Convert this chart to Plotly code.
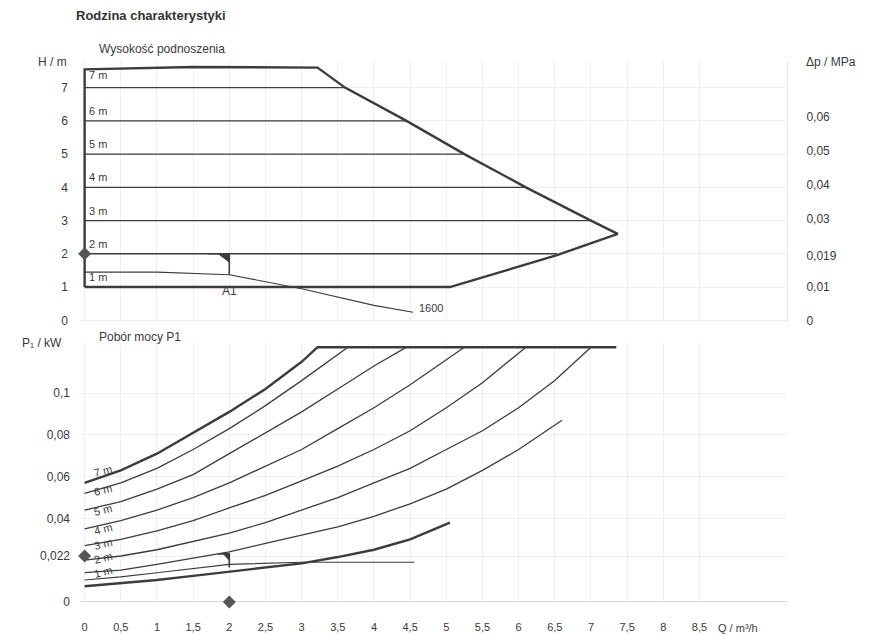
import plotly.graph_objects as go

# ---------------- data ----------------
Q_tick_vals = [0, 0.5, 1, 1.5, 2, 2.5, 3, 3.5, 4, 4.5, 5, 5.5, 6, 6.5, 7, 7.5, 8, 8.5]
Q_tick_text = ["0", "0,5", "1", "1,5", "2", "2,5", "3", "3,5", "4", "4,5",
               "5", "5,5", "6", "6,5", "7", "7,5", "8", "8,5"]
H_tick_vals = [0, 1, 2, 3, 4, 5, 6, 7]
P_tick_vals = [0, 0.022, 0.04, 0.06, 0.08, 0.1]
P_tick_text = ["0", "0,022", "0,04", "0,06", "0,08", "0,1"]
dp_tick_vals = [0, 0.01, 0.019, 0.03, 0.04, 0.05, 0.06]
dp_tick_text = ["0", "0,01", "0,019", "0,03", "0,04", "0,05", "0,06"]

# Head diagram: envelope (max / min) of the characteristic family
env_Q = [0, 0, 1.5, 3.22, 3.6, 4.45, 5.25, 6.1, 7.0, 7.37, 6.53, 5.05, 0]
env_H = [1.0, 7.55, 7.62, 7.6, 7.0, 6.0, 5.0, 4.0, 3.0, 2.6, 1.96, 1.0, 1.0]

# constant-pressure lines (H set values) and where they meet the envelope
setH_levels = [7, 6, 5, 4, 3, 2]
setH_end_Q = [3.6, 4.45, 5.25, 6.1, 7.0, 6.53]
setH_labels = ["7 m", "6 m", "5 m", "4 m", "3 m", "2 m", "1 m"]
setH_label_H = [7.38, 6.3, 5.3, 4.3, 3.3, 2.3, 1.3]

# constant speed curve "1600"
c1600_Q = [0, 1.0, 2.0, 3.0, 4.0, 4.54]
c1600_H = [1.45, 1.45, 1.37, 0.95, 0.45, 0.24]
c1600_PQ = [0, 0.5, 1.0, 1.5, 2.0, 3.0, 4.56]
c1600_P = [0.0105, 0.012, 0.014, 0.016, 0.018, 0.019, 0.019]

# operating point A1
A1_Q = 2.0
A1_H_set = 2.0
A1_H_act = 1.37
A1_P_set = 0.022
A1_P_act = 0.0165
A1_dp = 0.019

# Power diagram
Pmax_Q = [0, 0.5, 1.0, 1.5, 2.0, 2.5, 3.0, 3.22, 7.35]
Pmax_P = [0.057, 0.063, 0.071, 0.081, 0.091, 0.102, 0.115, 0.122, 0.122]

P7_Q = [0, 0.5, 1.0, 1.5, 2.0, 2.5, 3.0, 3.64]
P7_P = [0.052, 0.057, 0.064, 0.073, 0.083, 0.094, 0.106, 0.122]
P6_Q = [0, 0.5, 1.0, 1.5, 2.0, 2.5, 3.0, 3.5, 4.0, 4.45]
P6_P = [0.044, 0.048, 0.054, 0.061, 0.071, 0.081, 0.091, 0.102, 0.113, 0.122]
P5_Q = [0, 0.5, 1.0, 1.5, 2.0, 2.5, 3.0, 3.5, 4.0, 4.5, 5.0, 5.25]
P5_P = [0.035, 0.039, 0.044, 0.050, 0.057, 0.065, 0.073, 0.083, 0.093, 0.104, 0.116, 0.122]
P4_Q = [0, 0.5, 1.0, 1.5, 2.0, 2.5, 3.0, 3.5, 4.0, 4.5, 5.0, 5.5, 6.1]
P4_P = [0.027, 0.030, 0.034, 0.039, 0.045, 0.051, 0.058, 0.065, 0.073, 0.082, 0.093, 0.105, 0.122]
P3_Q = [0, 0.5, 1.0, 1.5, 2.0, 2.5, 3.0, 3.5, 4.0, 4.5, 5.0, 5.5, 6.0, 6.5, 7.0]
P3_P = [0.020, 0.022, 0.025, 0.029, 0.033, 0.038, 0.044, 0.050, 0.057, 0.064, 0.073,
        0.082, 0.093, 0.106, 0.122]
P2_Q = [0, 0.5, 1.0, 1.5, 2.0, 2.5, 3.0, 3.5, 4.0, 4.5, 5.0, 5.5, 6.0, 6.6]
P2_P = [0.014, 0.0152, 0.018, 0.021, 0.024, 0.028, 0.032, 0.036, 0.041, 0.047, 0.054,
        0.063, 0.073, 0.087]
P1_Q = [0, 0.5, 1.0, 1.5, 2.0, 2.5, 3.0, 3.5, 4.0, 4.5, 5.05]
P1_P = [0.0075, 0.009, 0.0105, 0.0125, 0.0145, 0.0165, 0.0185, 0.0215, 0.025, 0.030, 0.038]

P_label_P = [0.0625, 0.0534, 0.0438, 0.035, 0.0279, 0.0212, 0.0144]

# ---------------- figure ----------------
INK = "#3c3c3c"
TXT = "#3a3a3a"
FONT = "Liberation Sans, Arial, sans-serif"
Q_RANGE = [-0.05, 9.71]
H_RANGE = [-0.05, 7.8]
MPA_PER_M = 0.00981

fig = go.Figure()

def line(x, y, axes, width=1.3, color=INK):
    xa, ya = axes
    fig.add_trace(go.Scatter(x=x, y=y, xaxis=xa, yaxis=ya, mode="lines",
                             line=dict(color=color, width=width), hoverinfo="skip",
                             showlegend=False))

TOP = ("x2", "y2")
BOT = ("x", "y")

# --- head diagram
for h, qe in zip(setH_levels, setH_end_Q):
    line([0, qe], [h, h], TOP, width=1.4)
line(c1600_Q, c1600_H, TOP, width=1.1)
line(env_Q, env_H, TOP, width=2.4)

# A1 pennant (head)
line([A1_Q - 0.3, A1_Q, A1_Q], [A1_H_set, A1_H_set, A1_H_act], TOP, width=1.6)
fig.add_trace(go.Scatter(x=[A1_Q - 0.15, A1_Q, A1_Q, A1_Q - 0.15],
                         y=[A1_H_set, A1_H_set, A1_H_set - 0.25, A1_H_set],
                         xaxis="x2", yaxis="y2", mode="lines", fill="toself",
                         fillcolor=INK, line=dict(color=INK, width=1),
                         hoverinfo="skip", showlegend=False))

# diamonds on the head axes
fig.add_trace(go.Scatter(x=[0], y=[A1_H_set], xaxis="x2", yaxis="y2", mode="markers",
                         marker=dict(symbol="diamond", size=10, color="#555"),
                         cliponaxis=False, showlegend=False, hoverinfo="skip"))
fig.add_trace(go.Scatter(x=[Q_RANGE[1] + 0.05], y=[A1_dp], xaxis="x2", yaxis="y3",
                         mode="markers",
                         marker=dict(symbol="diamond", size=9, color="#777"),
                         cliponaxis=False, showlegend=False, hoverinfo="skip"))

# --- power diagram
line(c1600_PQ, c1600_P, BOT, width=1.1)
for qs, ps in [(P7_Q, P7_P), (P6_Q, P6_P), (P5_Q, P5_P), (P4_Q, P4_P),
               (P3_Q, P3_P), (P2_Q, P2_P)]:
    line(qs, ps, BOT, width=1.3)
line(P1_Q, P1_P, BOT, width=2.4)
line(Pmax_Q, Pmax_P, BOT, width=2.4)

# A1 pennant (power)
line([A1_Q - 0.16, A1_Q, A1_Q], [A1_P_set + 0.001, A1_P_set + 0.001, A1_P_act], BOT, width=1.6)
fig.add_trace(go.Scatter(x=[A1_Q - 0.08, A1_Q, A1_Q, A1_Q - 0.08],
                         y=[A1_P_set + 0.001, A1_P_set + 0.001, A1_P_set - 0.002, A1_P_set + 0.001],
                         xaxis="x", yaxis="y", mode="lines", fill="toself",
                         fillcolor=INK, line=dict(color=INK, width=1),
                         hoverinfo="skip", showlegend=False))

fig.add_trace(go.Scatter(x=[0, A1_Q], y=[A1_P_set, 0], xaxis="x", yaxis="y", mode="markers",
                         marker=dict(symbol="diamond", size=10, color="#555"),
                         cliponaxis=False, showlegend=False, hoverinfo="skip"))

# ---------------- annotations ----------------
ann = []
for lab, hy in zip(setH_labels, setH_label_H):
    ann.append(dict(x=0.03, y=hy, xref="x2", yref="y2", text=lab, showarrow=False,
                    xanchor="left", yanchor="middle", font=dict(size=11, color=TXT)))
for lab, py_ in zip(setH_labels, P_label_P):
    ann.append(dict(x=0.25, y=py_, xref="x", yref="y", text=lab, showarrow=False,
                    textangle=-14, xanchor="center", yanchor="middle",
                    font=dict(size=11, color=TXT)))
ann.append(dict(x=A1_Q, y=0.88, xref="x2", yref="y2", text="A1", showarrow=False,
                font=dict(size=12, color=TXT)))
ann.append(dict(x=c1600_Q[-1] + 0.05, y=0.38, xref="x2", yref="y2", text="1600",
                showarrow=False, xanchor="left", font=dict(size=11, color=TXT)))

W, H0 = 706, 542  # plot area pixels
def px(x):
    return (x - 81) / W
def py(y):
    return (603 - y) / H0

ann += [
    dict(x=px(74), y=py(16), xref="paper", yref="paper", text="<b>Rodzina charakterystyki</b>",
         showarrow=False, xanchor="left", yanchor="middle", font=dict(size=13, color="#333")),
    dict(x=px(97), y=py(49), xref="paper", yref="paper", text="Wysokość podnoszenia",
         showarrow=False, xanchor="left", yanchor="middle", font=dict(size=12, color=TXT)),
    dict(x=px(69), y=py(62), xref="paper", yref="paper", text="H / m",
         showarrow=False, xanchor="right", yanchor="middle", font=dict(size=12, color=TXT)),
    dict(x=px(804), y=py(62), xref="paper", yref="paper", text="Δp / MPa",
         showarrow=False, xanchor="left", yanchor="middle", font=dict(size=12, color=TXT)),
    dict(x=px(97), y=py(337), xref="paper", yref="paper", text="Pobór mocy P1",
         showarrow=False, xanchor="left", yanchor="middle", font=dict(size=12, color=TXT)),
    dict(x=px(64), y=py(343), xref="paper", yref="paper", text="P₁ / kW",
         showarrow=False, xanchor="right", yanchor="middle", font=dict(size=12, color=TXT)),
    dict(x=px(716), y=py(628), xref="paper", yref="paper", text="Q / m³/h",
         showarrow=False, xanchor="left", yanchor="middle", font=dict(size=11, color=TXT)),
]

GRID = "#efefef"
tickfont = dict(size=12, color=TXT, family=FONT)

fig.update_layout(
    width=883, height=636,
    margin=dict(l=81, r=96, t=61, b=33, autoexpand=False),
    paper_bgcolor="white", plot_bgcolor="white",
    font=dict(family=FONT, color=TXT),
    showlegend=False,
    annotations=ann,
    xaxis=dict(domain=[0, 1], anchor="y", range=Q_RANGE, tickvals=Q_tick_vals,
               ticktext=Q_tick_text, tickfont=dict(size=11, color=TXT, family=FONT),
               showgrid=True, gridcolor=GRID,
               zeroline=False, showline=False, ticks="", ticklabelstandoff=16,
               automargin=False),
    xaxis2=dict(domain=[0, 1], anchor="y2", matches="x", range=Q_RANGE,
                tickvals=Q_tick_vals, showticklabels=False, showgrid=True,
                gridcolor=GRID, zeroline=False, ticks="", automargin=False),
    yaxis=dict(domain=[0, 0.4797], anchor="x", range=[-0.0005, 0.124],
               tickvals=P_tick_vals, ticktext=P_tick_text, tickfont=tickfont,
               showgrid=True, gridcolor=GRID, zeroline=True, zerolinecolor="#d8d8d8",
               zerolinewidth=1, ticks="", ticklabelstandoff=10, automargin=False),
    yaxis2=dict(domain=[0.5185, 1], anchor="x2", range=H_RANGE, tickvals=H_tick_vals,
                tickfont=tickfont, showgrid=True, gridcolor=GRID, zeroline=False,
                ticks="", ticklabelstandoff=12, automargin=False),
    yaxis3=dict(overlaying="y2", side="right", anchor="x2",
                range=[H_RANGE[0] * MPA_PER_M, H_RANGE[1] * MPA_PER_M],
                tickvals=dp_tick_vals, ticktext=dp_tick_text, tickfont=tickfont,
                showgrid=False, zeroline=False, showline=True, linecolor="#e6e6e6",
                ticks="", ticklabelstandoff=16, automargin=False),
)

fig.write_html("out.html", config={"displayModeBar": False},
               post_script="document.body.style.margin='0px';document.body.style.overflow='hidden';")
